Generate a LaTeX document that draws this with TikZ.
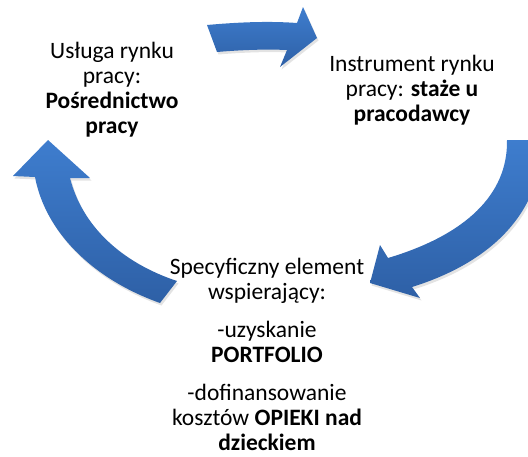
\documentclass[tikz,border=0pt]{standalone}
\usepackage{fontspec}
\setmainfont{Carlito}
\usetikzlibrary{shadows}
\definecolor{arrowtop}{RGB}{62,125,206}
\definecolor{arrowbottom}{RGB}{46,96,166}
\begin{document}
\begin{tikzpicture}[x=1pt,y=-1pt,
 cyclearrow/.style={top color=arrowtop,bottom color=arrowbottom,draw=none,
  drop shadow={opacity=0.22,shadow xshift=1.5pt,shadow yshift=-2.5pt}},
 cycletext/.style={align=center,inner sep=0pt,font=\fontsize{23.5}{25}\selectfont}]
 \useasboundingbox (0,0) rectangle (528,456);
 \clip (0,0) rectangle (528,456);
 \path[cyclearrow](207,25) .. controls (240,22) and (270,21) .. (297,23) -- (303,7) -- (317,38) -- (280,67) -- (287,50) .. controls (265,49) and (240,50) .. (217,52) -- cycle;
 \path[cyclearrow](507,140) -- (542,140) .. controls (542,212) and (492,262) .. (412,287) -- (420,298) -- (370,283) -- (380,245) -- (388,258) .. controls (465,235) and (508,195) .. (507,140) -- cycle;
 \path[cyclearrow](160,303) .. controls (90,278) and (45,230) .. (35,177) -- (13,176) -- (48,140) -- (90,178) -- (70,178) .. controls (82,225) and (120,262) .. (177,281) -- cycle;
 \node[cycletext] (posrednictwo) at (112,90) {Usługa rynku\\pracy:\\\textbf{Pośrednictwo}\\\textbf{pracy}};
 \node[cycletext] (staze) at (412,90) {Instrument rynku\\pracy: \textbf{staże u}\\\textbf{pracodawcy}};
 \node[cycletext] (element) at (267,354) {Specyficzny element\\wspierający:\\[13pt]-uzyskanie\\\textbf{PORTFOLIO}\\[13pt]-dofinansowanie\\kosztów \textbf{OPIEKI nad}\\\textbf{dzieckiem}};
\end{tikzpicture}
\end{document}
